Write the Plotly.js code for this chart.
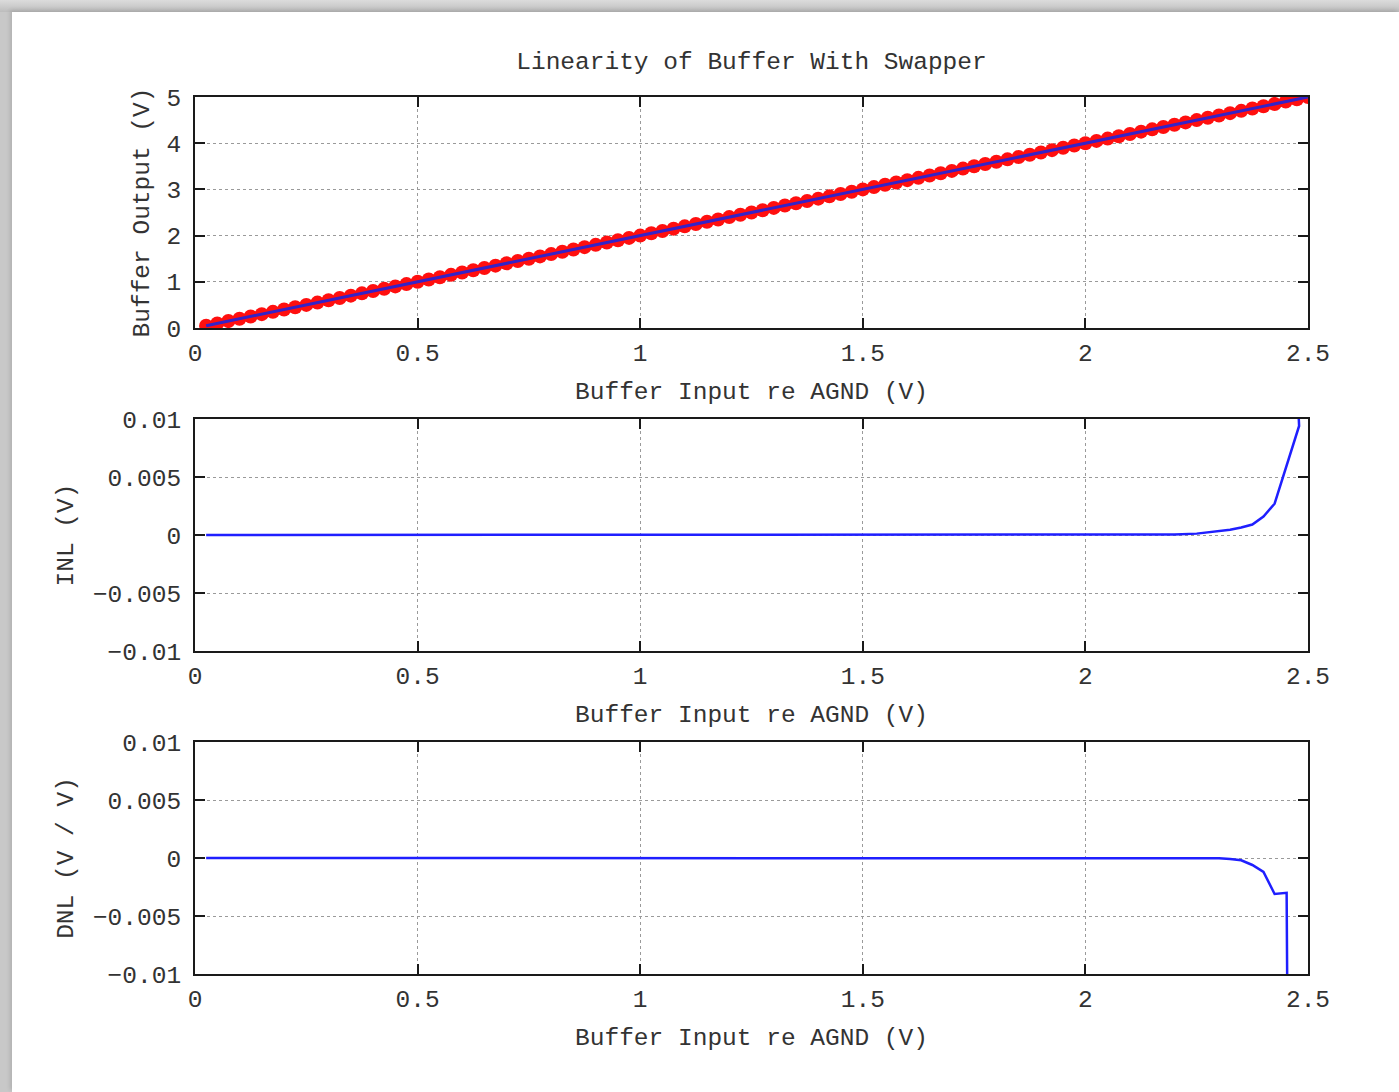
<!DOCTYPE html>
<html>
<head>
<meta charset="utf-8">
<script src="https://cdn.plot.ly/plotly-3.0.1.min.js"></script>
<style>
  html, body { margin: 0; padding: 0; width: 1399px; height: 1092px; overflow: hidden;
    background: linear-gradient(to bottom, #dcdcdc 0px, #bdbdbd 12px, #c8c8c8 12px); }
  #frame { position: absolute; left: 12px; top: 12px; width: 1387px; height: 1080px; background: #fff;
    box-shadow: -2px -2px 4px rgba(0,0,0,0.12); }
  #chart { width: 1387px; height: 1080px; }
</style>
</head>
<body>
<div id="frame"><div id="chart"></div></div>
<script>
// ---- data ----
const chartTitle = "Linearity of Buffer With Swapper";
const xTitle = "Buffer Input re AGND (V)";
const yTitles = ["Buffer Output (V)", "INL (V)", "DNL (V / V)"];

const bufferInput = [
  0.025,0.05,0.075,0.1,0.125,0.15,0.175,0.2,0.225,0.25,
  0.275,0.3,0.325,0.35,0.375,0.4,0.425,0.45,0.475,0.5,
  0.525,0.55,0.575,0.6,0.625,0.65,0.675,0.7,0.725,0.75,
  0.775,0.8,0.825,0.85,0.875,0.9,0.925,0.95,0.975,1.0,
  1.025,1.05,1.075,1.1,1.125,1.15,1.175,1.2,1.225,1.25,
  1.275,1.3,1.325,1.35,1.375,1.4,1.425,1.45,1.475,1.5,
  1.525,1.55,1.575,1.6,1.625,1.65,1.675,1.7,1.725,1.75,
  1.775,1.8,1.825,1.85,1.875,1.9,1.925,1.95,1.975,2.0,
  2.025,2.05,2.075,2.1,2.125,2.15,2.175,2.2,2.225,2.25,
  2.275,2.3,2.325,2.35,2.375,2.4,2.425,2.45,2.475,2.5
];
const bufferOutput = [
  0.05,0.1,0.15,0.2,0.25,0.3,0.35,0.4,0.45,0.5,
  0.55,0.6,0.65,0.7,0.75,0.8,0.85,0.9,0.95,1.0,
  1.05,1.1,1.15,1.2,1.25,1.3,1.35,1.4,1.45,1.5,
  1.55,1.6,1.65,1.7,1.75,1.8,1.85,1.9,1.95,2.0,
  2.05,2.1,2.15,2.2,2.25,2.3,2.35,2.4,2.45,2.5,
  2.55,2.6,2.65,2.7,2.75,2.8,2.85,2.9,2.95,3.0,
  3.05,3.1,3.15,3.2,3.25,3.3,3.35,3.4,3.45,3.5,
  3.55,3.6,3.65,3.7,3.75,3.8,3.85,3.9,3.95,4.0,
  4.05,4.1,4.15,4.2,4.25,4.3,4.35,4.4,4.45,4.5,
  4.55,4.6,4.65,4.7,4.75,4.8,4.85,4.9,4.95,5.0
];

const inlX = [0.025, 2.0, 2.2, 2.25, 2.3, 2.325, 2.35, 2.375, 2.4, 2.425, 2.48, 2.477];
const inlY = [0, 0, 0.00005, 0.00012, 0.0003, 0.00045, 0.00065, 0.0009, 0.0016, 0.0027, 0.0094, 0.0120];

const dnlX = [0.025, 2.0, 2.2, 2.3, 2.325, 2.35, 2.375, 2.4, 2.425, 2.452, 2.4565];
const dnlY = [0, 0, 0, -0.00003, -0.00008, -0.0002, -0.0006, -0.0012, -0.0031, -0.0030, -0.03];

const xTickVals = [0, 0.5, 1, 1.5, 2, 2.5];
const xTickText = ["0", "0.5", "1", "1.5", "2", "2.5"];
const y1TickVals = [0, 1, 2, 3, 4, 5];
const y1TickText = ["0", "1", "2", "3", "4", "5"];
const ySmallTickVals = [-0.01, -0.005, 0, 0.005, 0.01];
const ySmallTickText = ["\u22120.01", "\u22120.005", "0", "0.005", "0.01"];

// ---- styling ----
const FONT = "Liberation Mono, Courier New, monospace";
const TXT = "#333333";
const BLUE = "#1f1fff";
const FS = 24.5;

function xAxis(anchor) {
  return {
    anchor: anchor, range: [0, 2.5], tickvals: xTickVals, ticktext: xTickText,
    showline: true, linecolor: "#1a1a1a", linewidth: 2, mirror: "ticks",
    ticks: "inside", ticklen: 10, tickwidth: 2, tickcolor: "#1a1a1a",
    showgrid: true, gridcolor: "#9a9a9a", gridwidth: 1, griddash: "dot",
    zeroline: false, tickfont: {family: FONT, size: FS, color: TXT}, ticklabelstandoff: 2,
    title: {text: xTitle, font: {family: FONT, size: FS, color: TXT}, standoff: 14},
    fixedrange: true
  };
}
function yAxis(anchor, domain, range, vals, text, title, standoff) {
  return {
    anchor: anchor, domain: domain, range: range, tickvals: vals, ticktext: text,
    showline: true, linecolor: "#1a1a1a", linewidth: 2, mirror: "ticks",
    ticks: "inside", ticklen: 10, tickwidth: 2, tickcolor: "#1a1a1a",
    showgrid: true, gridcolor: "#9a9a9a", gridwidth: 1, griddash: "dot",
    zeroline: false, tickfont: {family: FONT, size: FS, color: TXT}, ticklabelstandoff: 7,
    title: {text: title, font: {family: FONT, size: FS, color: TXT}, standoff: standoff},
    fixedrange: true
  };
}

const traces = [
  {x: bufferInput, y: bufferOutput, xaxis: "x", yaxis: "y", type: "scatter", mode: "markers",
   marker: {color: "#ff0f0f", size: 14}, hoverinfo: "skip", showlegend: false},
  {x: bufferInput, y: bufferOutput, xaxis: "x", yaxis: "y", type: "scatter", mode: "lines",
   line: {color: "#3422c8", width: 3}, showlegend: false},
  {x: inlX, y: inlY, xaxis: "x2", yaxis: "y2", type: "scatter", mode: "lines",
   line: {color: BLUE, width: 2.5}, showlegend: false},
  {x: dnlX, y: dnlY, xaxis: "x3", yaxis: "y3", type: "scatter", mode: "lines",
   line: {color: BLUE, width: 2.5}, showlegend: false}
];

const layout = {
  width: 1387, height: 1080,
  margin: {l: 183, r: 91, t: 85, b: 118},
  paper_bgcolor: "#ffffff", plot_bgcolor: "#ffffff",
  title: {text: chartTitle, font: {family: FONT, size: FS, color: TXT},
          x: 0.5, xref: "paper", xanchor: "center", y: 1, yref: "paper", yanchor: "bottom",
          pad: {b: 28}},
  xaxis: xAxis("y"),
  xaxis2: xAxis("y2"),
  xaxis3: xAxis("y3"),
  yaxis: yAxis("x", [0.7366, 1], [0, 5], y1TickVals, y1TickText, yTitles[0], 10),
  yaxis2: yAxis("x2", [0.3683, 0.6328], [-0.01, 0.01], ySmallTickVals, ySmallTickText, yTitles[1], 12),
  yaxis3: yAxis("x3", [0, 0.2645], [-0.01, 0.01], ySmallTickVals, ySmallTickText, yTitles[2], 12),
  showlegend: false
};

Plotly.newPlot("chart", traces, layout, {displayModeBar: false, staticPlot: true});
</script>
</body>
</html>
